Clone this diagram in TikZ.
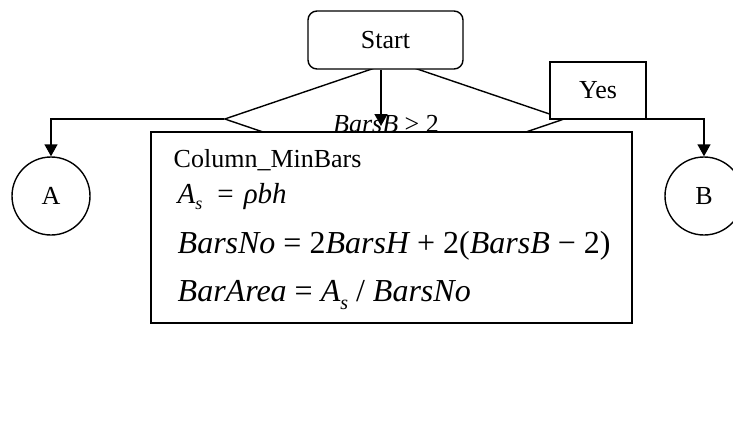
\documentclass[tikz,border=0pt]{standalone}
\usepackage{fontspec}
\setmainfont{Liberation Serif}
\usetikzlibrary{shapes.geometric,arrows.meta}
\begin{document}
\begin{tikzpicture}[x=1pt,y=-1pt,
  line width=1.4pt,
  arr/.style={-{Triangle[length=12pt,width=13pt]}},
  txt/.style={font=\fontsize{26}{30}\selectfont},
  eqbig/.style={font=\fontsize{32}{36}\selectfont, inner sep=0pt, anchor=base west},
  boxnode/.style={draw, fill=white, inner sep=0pt}
]
\useasboundingbox (0,0) rectangle (733,436);
% decision diamond
\node[draw, diamond, minimum width=340pt, minimum height=116pt, inner sep=0pt] (dia) at (394.5,119) {};
\node[txt, inner sep=0pt, anchor=base] (cond) at (386,132) {\itshape BarsB\upshape{} > 2};
% start
\node[boxnode, rounded corners=9pt, minimum width=155pt, minimum height=58pt, txt] (start) at (385.5,40) {Start};
\coordinate (dtip) at (381,126);
\draw[arr] (start.south -| dtip) -- (dtip);
% circles
\node[draw, circle, minimum size=78pt, inner sep=0pt, txt] (A) at (51,196) {A};
\node[draw, circle, minimum size=78pt, inner sep=0pt, txt] (B) at (704,196) {B};
\draw[arr] (dia.west) -| (A.north);
\draw[arr] (dia.east) -| (B.north);
% yes label box
\node[boxnode, minimum width=96pt, minimum height=57pt, txt] (yes) at (598,90.5) {Yes};
% process box
\node[boxnode, minimum width=481pt, minimum height=191pt] (proc) at (391.5,227.5) {};
\node[txt, inner sep=0pt, anchor=base west] (title) at (173,167) {Column\_MinBars};
\node[font=\fontsize{29}{32}\selectfont, inner sep=0pt, anchor=base west] (eq1) at (177,203)
  {\itshape A\raisebox{-6pt}{\fontsize{18}{18}\selectfont s}\hspace{15pt}\upshape=\hspace{10pt}\itshape ρbh};
\node[eqbig] (eq2) at (177,253)
  {\itshape BarsNo\upshape{} = 2\itshape BarsH\upshape{} + 2(\itshape BarsB\upshape{} − 2)};
\node[eqbig] (eq3) at (177,301)
  {\itshape BarArea\upshape{} = \itshape A\raisebox{-8pt}{\fontsize{20}{20}\selectfont s}\upshape{} / \itshape BarsNo};
\end{tikzpicture}
\end{document}
